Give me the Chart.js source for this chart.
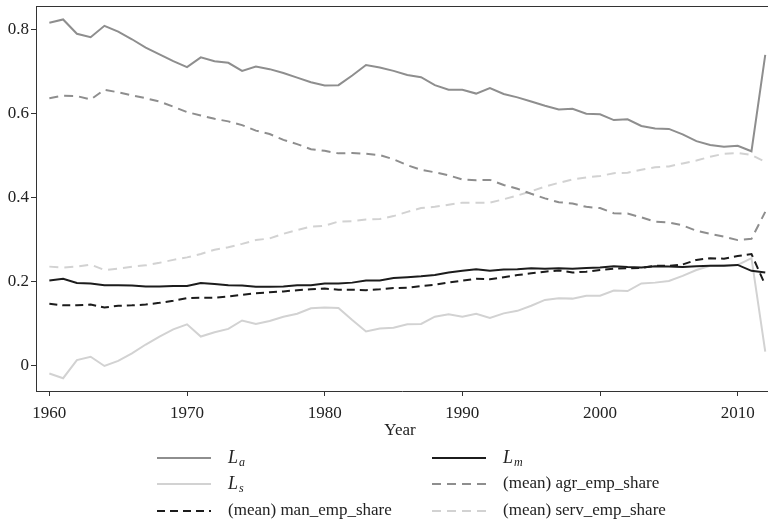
<!DOCTYPE html>
<html lang="en">
<head>
  <meta charset="UTF-8">
  <title>Employment shares</title>
  <script src="https://cdn.jsdelivr.net/npm/chart.js"></script>
  <style>
    html, body { margin: 0; padding: 0; background: #fff; }
  </style>
</head>
<body>
  <canvas id="myChart" width="768" height="522"></canvas>

  <script>
    // years 1960..2012
    const years = [];
    for (let y = 1960; y <= 2012; y++) years.push(y);

    const La = [0.815,0.823,0.789,0.781,0.808,0.794,0.776,0.756,0.740,0.724,
                0.710,0.733,0.724,0.720,0.701,0.711,0.705,0.696,0.685,0.674,
                0.666,0.667,0.690,0.715,0.709,0.701,0.691,0.686,0.667,0.656,
                0.656,0.647,0.660,0.646,0.638,0.628,0.618,0.609,0.611,0.599,
                0.598,0.584,0.586,0.570,0.564,0.563,0.550,0.534,0.525,0.521,
                0.523,0.510,0.739];
    const Lm = [0.203,0.207,0.197,0.196,0.192,0.192,0.191,0.189,0.189,0.190,
                0.190,0.197,0.195,0.192,0.191,0.188,0.188,0.189,0.192,0.192,
                0.196,0.196,0.198,0.203,0.203,0.209,0.211,0.213,0.216,0.222,
                0.226,0.230,0.226,0.229,0.230,0.232,0.231,0.232,0.231,0.233,
                0.234,0.237,0.235,0.234,0.237,0.236,0.235,0.237,0.238,0.238,
                0.240,0.226,0.222];
    const Ls = [-0.018,-0.029,0.014,0.022,0.000,0.012,0.030,0.051,0.070,0.087,
                0.099,0.070,0.080,0.088,0.108,0.100,0.107,0.117,0.124,0.137,
                0.139,0.138,0.109,0.082,0.089,0.091,0.099,0.100,0.117,0.123,
                0.117,0.124,0.114,0.125,0.131,0.143,0.157,0.161,0.160,0.167,
                0.167,0.179,0.178,0.196,0.198,0.202,0.214,0.228,0.238,0.239,
                0.240,0.256,0.034];
    const agrShare = [0.636,0.642,0.641,0.633,0.656,0.650,0.643,0.636,0.628,0.616,
                      0.603,0.595,0.587,0.581,0.572,0.559,0.551,0.537,0.527,0.515,
                      0.511,0.505,0.506,0.504,0.501,0.491,0.477,0.466,0.460,0.453,
                      0.443,0.441,0.442,0.430,0.421,0.409,0.398,0.389,0.386,0.378,
                      0.375,0.363,0.362,0.353,0.343,0.341,0.334,0.321,0.314,0.307,
                      0.299,0.302,0.366];
    const manShare = [0.148,0.144,0.144,0.146,0.139,0.143,0.144,0.146,0.150,0.155,
                      0.161,0.162,0.162,0.165,0.169,0.173,0.175,0.177,0.180,0.182,
                      0.184,0.181,0.181,0.180,0.182,0.185,0.186,0.190,0.193,0.198,
                      0.203,0.207,0.206,0.211,0.216,0.220,0.224,0.227,0.222,0.224,
                      0.228,0.231,0.232,0.233,0.238,0.238,0.241,0.252,0.256,0.255,
                      0.261,0.266,0.192];
    const servShare = [0.236,0.234,0.236,0.241,0.228,0.231,0.236,0.239,0.245,0.252,
                       0.258,0.266,0.276,0.282,0.290,0.299,0.303,0.314,0.323,0.331,
                       0.333,0.343,0.344,0.348,0.349,0.356,0.366,0.375,0.378,0.383,
                       0.388,0.388,0.388,0.396,0.405,0.415,0.426,0.435,0.443,0.448,
                       0.451,0.458,0.459,0.466,0.472,0.474,0.481,0.488,0.497,0.504,
                       0.506,0.501,0.485];

    const xTicks = [1960, 1970, 1980, 1990, 2000, 2010];
    const yTicks = [0, 0.2, 0.4, 0.6, 0.8];

    const FONT = "'Liberation Serif', 'DejaVu Serif', serif";
    const AXIS = "#333";

    const series = [
      { data: La,        name: "L", sub: "a", color: "#8e8e8e", dash: [] },
      { data: Lm,        name: "L", sub: "m", color: "#1c1c1c", dash: [] },
      { data: Ls,        name: "L", sub: "s", color: "#d2d2d2", dash: [] },
      { data: agrShare,  name: "(mean) agr_emp_share",  color: "#8e8e8e", dash: [9, 6] },
      { data: manShare,  name: "(mean) man_emp_share",  color: "#1c1c1c", dash: [8, 5] },
      { data: servShare, name: "(mean) serv_emp_share", color: "#d2d2d2", dash: [9, 6] }
    ];

    function toPoints(arr) {
      return arr.map((v, i) => ({ x: years[i], y: v }));
    }

    // legend order in the picture: La, Lm / Ls, agr / man, serv
    const legendLayout = [
      { s: 0, x: 157, y: 458 }, { s: 1, x: 432, y: 458 },
      { s: 2, x: 157, y: 484 }, { s: 3, x: 432, y: 484 },
      { s: 4, x: 157, y: 511 }, { s: 5, x: 432, y: 511 }
    ];

    const extrasPlugin = {
      id: "extras",
      afterDraw(chart) {
        const ctx = chart.ctx;
        const a = chart.chartArea;
        ctx.save();
        // top frame line
        ctx.strokeStyle = AXIS;
        ctx.lineWidth = 1;
        ctx.beginPath();
        ctx.moveTo(a.left, a.top + 0.5);
        ctx.lineTo(a.right, a.top + 0.5);
        ctx.stroke();

        // x title
        ctx.fillStyle = "#222";
        ctx.font = "17px " + FONT;
        ctx.textAlign = "center";
        ctx.textBaseline = "middle";
        ctx.fillText("Year", 400, 431);

        // legend
        ctx.textAlign = "left";
        legendLayout.forEach(item => {
          const s = series[item.s];
          ctx.strokeStyle = s.color;
          ctx.lineWidth = 2;
          ctx.setLineDash(s.dash);
          ctx.beginPath();
          ctx.moveTo(item.x, item.y);
          ctx.lineTo(item.x + 54, item.y);
          ctx.stroke();
          ctx.setLineDash([]);
          ctx.fillStyle = "#222";
          const tx = item.x + 71;
          if (s.sub) {
            ctx.font = "italic 18px " + FONT;
            ctx.fillText(s.name, tx, item.y);
            const w = ctx.measureText(s.name).width;
            ctx.font = "italic 12px " + FONT;
            ctx.fillText(s.sub, tx + w + 1, item.y + 5);
          } else {
            ctx.font = "17px " + FONT;
            ctx.fillText(s.name, tx, item.y);
          }
        });
        ctx.restore();
      }
    };

    function drawChart() {
      const ctx = document.getElementById("myChart").getContext("2d");

      new Chart(ctx, {
        type: "line",
        data: {
          datasets: series.map(s => ({
            label: s.sub ? s.name + s.sub : s.name,
            data: toPoints(s.data),
            borderColor: s.color,
            borderDash: s.dash,
            borderWidth: 2,
            pointRadius: 0,
            fill: false,
            tension: 0
          }))
        },
        options: {
          responsive: false,
          animation: false,
          layout: { padding: { top: 6, left: 0, right: 0, bottom: 0 } },
          plugins: {
            legend: { display: false },
            tooltip: { enabled: false }
          },
          scales: {
            x: {
              type: "linear",
              min: 1959.03,
              max: 2012.2,
              afterBuildTicks: scale => { scale.ticks = xTicks.map(v => ({ value: v })); },
              afterFit: scale => { scale.height = 131; },
              grid: { drawOnChartArea: false, tickLength: 5, color: AXIS },
              border: { color: AXIS, width: 1 },
              ticks: {
                font: { family: FONT, size: 17 },
                color: "#222",
                padding: 7,
                maxRotation: 0,
                callback: v => String(v)
              }
            },
            y: {
              min: -0.0594,
              max: 0.855,
              afterBuildTicks: scale => { scale.ticks = yTicks.map(v => ({ value: v })); },
              // drop the space chart.js keeps for the top tick label
              afterFit: scale => { scale.width = 36; scale.paddingTop = 0; scale.paddingBottom = 0; },
              grid: { drawOnChartArea: false, tickLength: 5, color: AXIS },
              border: { color: AXIS, width: 1 },
              ticks: {
                font: { family: FONT, size: 17 },
                color: "#222",
                padding: 2,
                callback: v => (v === 0 ? "0" : v.toFixed(1))
              }
            }
          }
        },
        plugins: [extrasPlugin]
      });
    }

    document.addEventListener("DOMContentLoaded", drawChart);
  </script>
</body>
</html>
